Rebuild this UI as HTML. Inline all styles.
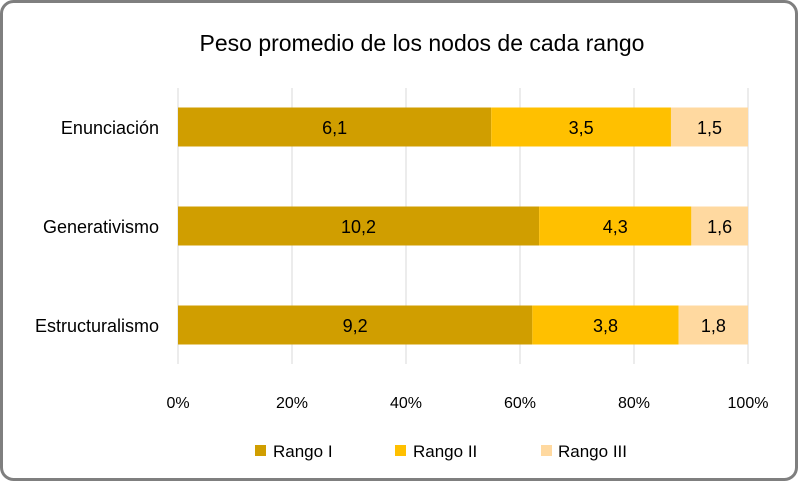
<!DOCTYPE html>
<html><head><meta charset="utf-8"><style>
body{margin:0;background:#fff}
svg{display:block;font-family:"Liberation Sans",sans-serif}
</style></head><body>
<svg width="798" height="481" viewBox="0 0 798 481">
<rect x="1.5" y="1.5" width="795" height="478" rx="12" fill="#fff" stroke="#7f7f7f" stroke-width="3"/>
<text x="422" y="51" font-size="23" text-anchor="middle" fill="#000">Peso promedio de los nodos de cada rango</text>
<g id="grid"></g><g id="bars"></g><g id="axes"></g>
<g>
<rect x="255" y="445" width="11" height="11" fill="#D09E00"/>
<text x="273" y="457" font-size="17">Rango I</text>
<rect x="395" y="445" width="11" height="11" fill="#FFC000"/>
<text x="413" y="457" font-size="17">Rango II</text>
<rect x="541" y="445" width="11" height="11" fill="#FFD9A0"/>
<text x="558" y="457" font-size="17">Rango III</text>
</g>
</svg>
<script>
const categories = ["Enunciación","Generativismo","Estructuralismo"];
const rango1 = [6.1,10.2,9.2];
const rango2 = [3.5,4.3,3.8];
const rango3 = [1.5,1.6,1.8];
const tickLabels = ["0%","20%","40%","60%","80%","100%"];
const ticks = [0,0.2,0.4,0.6,0.8,1];
const NS="http://www.w3.org/2000/svg";
const x0=178,x1=748;
const xs=v=>x0+v*(x1-x0);
const yc=i=>127+i*99;
const bh=39;
const colors=["#D09E00","#FFC000","#FFD9A0"];
const grid=document.getElementById('grid'),bars=document.getElementById('bars'),axes=document.getElementById('axes');
function mk(tag,attrs,parent){const e=document.createElementNS(NS,tag);for(const k in attrs)e.setAttribute(k,attrs[k]);parent.appendChild(e);return e;}
ticks.forEach((t,i)=>{
  const l=mk('line',{x1:xs(t),x2:xs(t),y1:88,y2:364,stroke:'#d9d9d9','stroke-width':1},grid);
  
  
  const tx=mk('text',{x:xs(t),y:408,'font-size':16,'text-anchor':'middle',fill:'#000'},axes);
  tx.textContent=tickLabels[i];
  
  
});
categories.forEach((c,i)=>{
  const vals=[rango1[i],rango2[i],rango3[i]];
  const tot=vals.reduce((a,b)=>a+b,0);
  let acc=0;
  vals.forEach((v,j)=>{
    const a=xs(acc/tot),b=xs((acc+v)/tot);
    const r=mk('rect',{x:a,y:yc(i)-bh/2,width:b-a,height:bh,fill:colors[j]},bars);
    
    
    const t=mk('text',{x:(a+b)/2,y:yc(i)+7,'font-size':18,'text-anchor':'middle',fill:'#000'},bars);
    t.textContent=String(v).replace('.',',');
    
    
    acc+=v;
  });
  const lab=mk('text',{x:159,y:yc(i)+7,'font-size':18,'text-anchor':'end',fill:'#000'},axes);
  lab.textContent=c;
  
  
});
</script>
</body></html>
